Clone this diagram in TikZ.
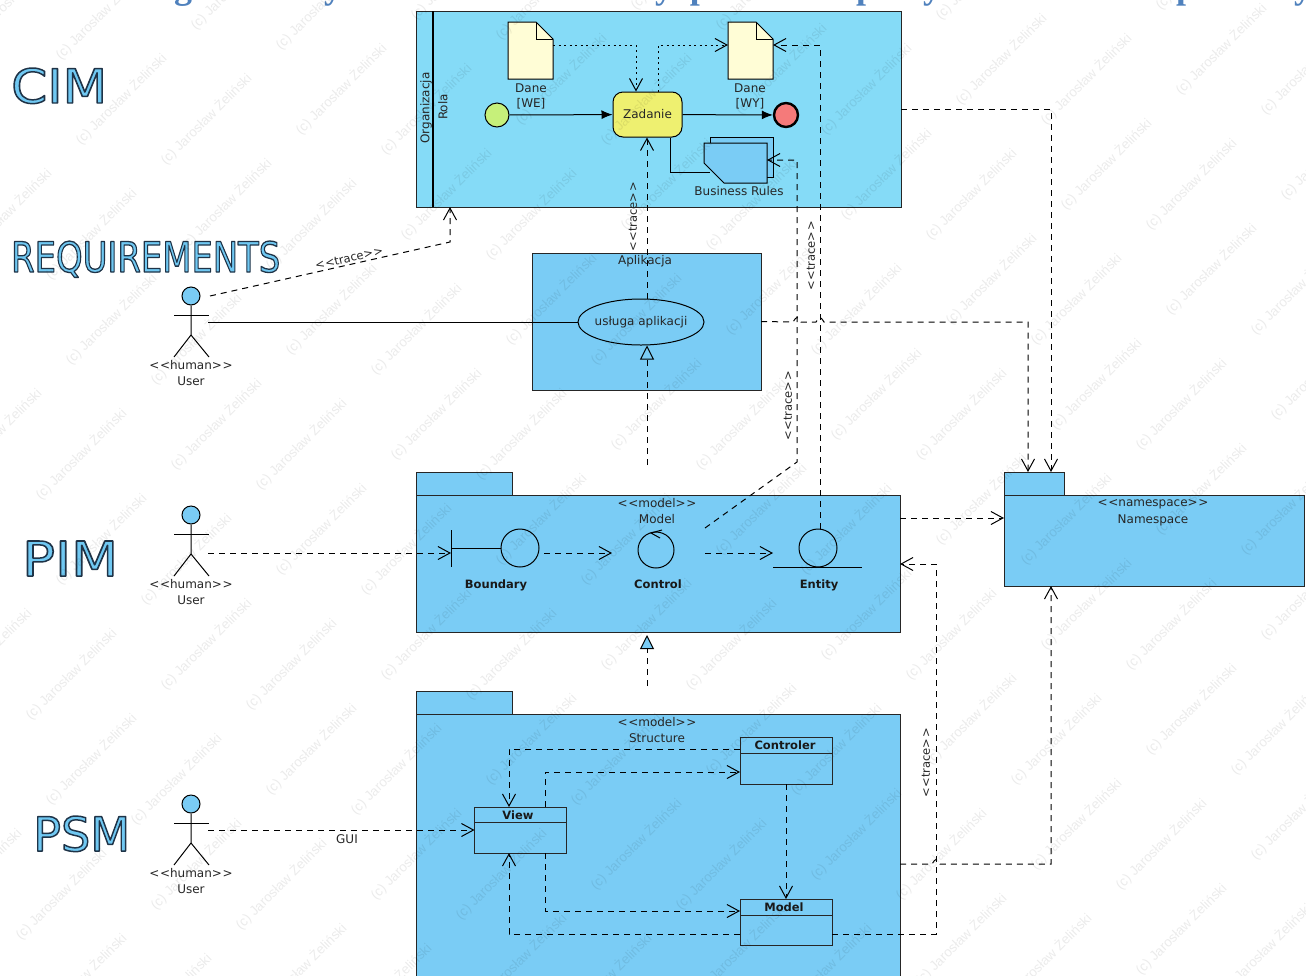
\documentclass[tikz,border=0pt]{standalone}
\usepackage{graphicx}
\usepackage{fontspec}
\setmainfont{DejaVu Sans}
\newfontfamily\titlefont{Liberation Serif}
\newfontfamily\markfont{Liberation Sans}
\usetikzlibrary{arrows.meta, shapes.geometric}
\definecolor{cimblue}{RGB}{133,219,247}
\definecolor{pkgblue}{RGB}{122,204,245}
\definecolor{headblue}{RGB}{112,200,242}
\definecolor{taskyellow}{RGB}{238,240,112}
\definecolor{docyellow}{RGB}{255,253,214}
\definecolor{startgreen}{RGB}{198,240,122}
\definecolor{endred}{RGB}{245,122,122}
\definecolor{titleblue}{RGB}{79,129,189}
\newcommand{\outlined}[1]{\fontsize{48}{50}\selectfont\color{headblue}\special{pdf:code 2 Tr 1.5 w 1 j 0.12 0.2 0.28 RG}#1\special{pdf:code 0 Tr}}
\newcommand{\stereo}[1]{<\kern.6pt<#1>\kern.6pt>}
\begin{document}
\begin{tikzpicture}[
    x=1pt, y=-1pt,
    boxline/.style={draw=black!85, line width=1pt},
    pkgbody/.style={boxline, fill=pkgblue, inner sep=0pt, outer sep=0pt},
    classbox/.style={pkgbody, minimum width=92pt, minimum height=46pt},
    solidline/.style={draw=black, line width=1pt},
    flowline/.style={solidline, -{Latex[length=11pt,width=9pt]}},
    tracearr/.style={draw=black, line width=1pt, dash pattern=on 6pt off 5pt,
                     -{Straight Barb[length=12pt,width=13pt]}},
    dotarr/.style={draw=black, line width=1pt, dash pattern=on 2pt off 3.5pt,
                   -{Straight Barb[length=12pt,width=13pt]}},
    realarr/.style={draw=black, line width=1pt, dash pattern=on 6pt off 5pt,
                    -{Triangle[open,length=14pt,width=14pt,fill=pkgblue]}},
    lbl/.style={font=\fontsize{12}{13}\selectfont, text=black!85, inner sep=0pt},
    tracelbl/.style={lbl, font=\fontsize{11.5}{13}\selectfont},
    blbl/.style={font=\fontsize{11.5}{13}\selectfont\bfseries, text=black!90, inner sep=0pt},
    heading/.style={anchor=base west, inner sep=0pt},
    wmark/.style={anchor=south west, rotate=45, inner sep=0pt, text=black, opacity=0.08,
                  font=\markfont\fontsize{13.5}{14}\selectfont},
  ]
  \useasboundingbox (0,0) rectangle (1306,975);
  \clip (0,0) rectangle (1306,975);
  \fill[white] (0,0) rectangle (1306,975);
  % cut-off title line
  \foreach \tx/\tc in {183/g,333/y,664/y,700/p,866/p,932/y,1186/p,1303/y}
    { \node[anchor=base, inner sep=0pt, text=titleblue, font=\titlefont\fontsize{36}{40}\selectfont\bfseries]
        (title\tx) at (\tx,-2) {\tc}; }
  % headings
  \node[heading] (cimhead) at (11,103) {\resizebox{96pt}{35pt}{\outlined{CIM}}};
  \node[heading] (reqhead) at (11,272) {\resizebox{269pt}{31pt}{\outlined{REQUIREMENTS}}};
  \node[heading] (pimhead) at (22,576) {\resizebox{96pt}{35pt}{\outlined{PIM}}};
  \node[heading] (psmhead) at (33,851) {\resizebox{97pt}{35pt}{\outlined{PSM}}};
  % business process
  \node[pkgbody, fill=cimblue, minimum width=485pt, minimum height=196pt] (pool) at (658.5,109) {};
  \draw[draw=black, line width=2pt] (433,11) -- (433,207);
  \node[lbl, rotate=90] (poolname) at (426,108) {Organizacja};
  \node[lbl, rotate=90] (lanename) at (443,107) {Rola};
  \foreach \dn/\dx/\dl/\dt in {danewe/508/531/[WE],danewy/728/750/[WY]}
  {
    \draw[solidline, fill=docyellow] (\dx,22) -- (\dx+28,22) -- (\dx+45,39) -- (\dx+45,79) -- (\dx,79) -- cycle;
    \draw[solidline] (\dx+28,22) -- (\dx+28,39) -- (\dx+45,39);
    \coordinate (\dn) at (\dx,45);
    \coordinate (\dn-r) at (\dx+45,45);
    \node[lbl] (\dn-a) at (\dl,88) {Dane};
    \node[lbl] (\dn-b) at (\dl,104) {\dt};
  }
  \node[solidline, circle, fill=startgreen, minimum size=24pt, inner sep=0pt] (start) at (497,115) {};
  \node[solidline, draw=black, line width=2.4pt, circle, fill=endred, minimum size=24pt, inner sep=0pt] (stop) at (786,115) {};
  \node[solidline, rounded corners=10pt, fill=taskyellow, minimum width=69pt, minimum height=45pt, inner sep=0pt,
        lbl] (zadanie) at (647.5,114.5) {Zadanie};
  \draw[flowline] (start) -- (zadanie);
  \draw[flowline] (zadanie) -- (stop);
  \draw[dotarr] (danewe-r) -| (zadanie.north -| 636,0);
  \draw[dotarr] (zadanie.north -| 658,0) |- (danewy);
  \draw[solidline, fill=pkgblue] (710,143) -- (710,137) -- (773,137) -- (773,177) -- (767,177);
  \node[pkgbody, draw=none, fill=none, minimum width=63pt, minimum height=40pt] (rules) at (735.5,163) {};
  \draw[solidline, fill=pkgblue] (704,143) -- (767,143) -- (767,183) -- (724,183) -- (704,163) -- cycle;
  \draw[solidline] (zadanie.south -| 670,0) |- (710,172);
  \node[lbl] (ruleslabel) at (739,191) {Business Rules};
  % application layer
  \node[pkgbody, minimum width=229pt, minimum height=137pt] (aplikacja) at (646.5,321.5) {};
  \node[lbl] (aplikacjaname) at (645,261) {Aplikacja};
  \node[solidline, ellipse, fill=pkgblue, minimum width=126pt, minimum height=46pt, lbl, inner sep=-2pt] (usluga) at (641,322) {usługa aplikacji};
  % actors
  \foreach \an/\ay in {actorreq/296,actorpim/515,actorpsm/804}
  {
    \node[solidline, circle, fill=pkgblue, minimum size=18pt, inner sep=0pt] (\an) at (191,\ay) {};
    \draw[solidline] (\an.south) -- (191,\ay+39) -- (174,\ay+61);
    \draw[solidline] (191,\ay+39) -- (209,\ay+61);
    \draw[solidline] (174,\ay+19) -- (209,\ay+19);
    \node[lbl] (\an-st) at (191,\ay+69) {\stereo{human}};
    \node[lbl] (\an-nm) at (191,\ay+85) {User};
  }
  \coordinate (reqout) at (210,296);
  \coordinate (reqline) at (208,322);
  \coordinate (pimout) at (208,553);
  \coordinate (psmout) at (208,830);
  \draw[tracearr] (reqout) -- (450,242) -- (pool.south -| 450,0);
  \node[tracelbl, rotate=13] (tracereq) at (349,258) {\stereo{trace}};
  \draw[solidline] (reqline) -- (usluga.west |- reqline);
  % namespace package
  \node[pkgbody, minimum width=60pt, minimum height=23pt] (nstab) at (1034,483.5) {};
  \node[pkgbody, minimum width=300pt, minimum height=91pt] (namespace) at (1154,540.5) {};
  \node[lbl] (nsst) at (1153,504) {\stereo{namespace}};
  \node[lbl] (nsnm) at (1153,520) {Namespace};
  % pim package
  \node[pkgbody, minimum width=96pt, minimum height=23pt] (modeltab) at (464,483.5) {};
  \node[pkgbody, minimum width=484pt, minimum height=137pt] (modelpkg) at (658,563.5) {};
  \node[lbl] (modelst) at (657,503) {\stereo{model}};
  \node[lbl] (modelnm) at (657,519) {Model};
  \node[solidline, circle, minimum size=38pt, inner sep=0pt] (boundary) at (520,548) {};
  \draw[solidline] (boundary.west) -- (451,548);
  \draw[solidline] (451,530) -- (451,567);
  \node[blbl] (boundarylabel) at (496,585) {Boundary};
  \node[solidline, circle, minimum size=36pt, inner sep=0pt] (control) at (656,550) {};
  \draw[solidline] (662,530) -- (651,533) -- (660,538);
  \node[blbl] (controllabel) at (658,584) {Control};
  \node[solidline, circle, minimum size=38pt, inner sep=0pt] (entity) at (818,548) {};
  \draw[solidline] (773,567) -- (862,567);
  \node[blbl] (entitylabel) at (819,585) {Entity};
  \coordinate (boundaryout) at (544,553);
  \coordinate (controlin) at (612,553);
  \coordinate (controlout) at (705,553);
  \coordinate (controltrace) at (705,528);
  \coordinate (entityin) at (773,553);
  \coordinate (modelreal) at (647,465);
  \draw[tracearr] (pimout) -- (451,553);
  \draw[tracearr] (boundaryout) -- (controlin);
  \draw[tracearr] (controlout) -- (entityin);
  % psm package
  \node[pkgbody, minimum width=96pt, minimum height=23pt] (structtab) at (464,702.5) {};
  \node[pkgbody, minimum width=484pt, minimum height=300pt] (structpkg) at (658,864) {};
  \node[lbl] (structst) at (657,722) {\stereo{model}};
  \node[lbl] (structnm) at (657,738) {Structure};
  \node[classbox, minimum height=47pt] (controler) at (786,760.5) {};
  \node[classbox] (view) at (520.5,830) {};
  \node[classbox] (modelcl) at (786,922) {};
  \draw[boxline] (controler.west |- 0,753) -- (controler.east |- 0,753);
  \draw[boxline] (view.west |- 0,822) -- (view.east |- 0,822);
  \draw[boxline] (modelcl.west |- 0,915) -- (modelcl.east |- 0,915);
  \node[blbl] (controlername) at (785,745) {Controler};
  \node[blbl] (viewname) at (518,815) {View};
  \node[blbl] (modelclname) at (784,907) {Model};
  \coordinate (structreal) at (647,686);
  \draw[tracearr] (psmout) -- (view.west |- psmout);
  \node[lbl] (guilabel) at (347,839) {GUI};
  \draw[tracearr] (controler.west |- 0,749) -| (view.north -| 509,0);
  \draw[tracearr] (view.north -| 545,0) |- (controler.west |- 0,772);
  \draw[tracearr] (controler.south) -- (modelcl.north);
  \draw[tracearr] (view.south -| 545,0) |- (modelcl.west |- 0,911);
  \draw[tracearr] (modelcl.west |- 0,934) -| (view.south -| 509,0);
  % dependencies between the layers
  \draw[realarr] (modelreal) -- (usluga.south -| 647,0);
  \draw[realarr] (structreal) -- (647,635);
  \draw[tracearr] (usluga.north -| 647,0) -- (zadanie.south -| 647,0);
  \node[tracelbl, rotate=90] (tracetask) at (633,217) {\stereo{trace}};
  \draw[tracearr] (entity.north -| 820,0) |- (danewy-r);
  \node[tracelbl, rotate=90] (traceentity) at (811,256) {\stereo{trace}};
  \draw[tracearr] (controltrace) -- (797,462) -- (797,160) -- (rules.east |- 0,160);
  \node[tracelbl, rotate=90] (tracecontrol) at (788,406) {\stereo{trace}};
  \draw[tracearr] (aplikacja.east) -- (793,322) .. controls (797,316) .. (801,322) -- (816,322)
    .. controls (820,316) .. (824,322) -- (1028,322) -- (nstab.north -| 1028,0);
  \draw[tracearr] (pool.east |- 0,109) -- (1051,109) -- (nstab.north -| 1051,0);
  \draw[tracearr] (modelpkg.east |- 0,518) -- (namespace.west |- 0,518);
  \draw[tracearr] (structpkg.east |- 0,864) -- (932,864) .. controls (936,858) .. (940,864)
    -- (1051,864) -- (namespace.south -| 1051,0);
  \draw[tracearr] (modelcl.east |- 0,934) -- (936,934) -- (936,564) -- (modelpkg.east |- 0,564);
  \node[tracelbl, rotate=90] (tracemodel) at (926,763) {\stereo{trace}};
  % watermark
  \foreach \i in {-1,...,6} \foreach \j in {-1,...,5}
    \foreach \dx/\dy in {0/0,85/20,105/105,190/125}
      { \node[wmark] (wm\i\j\dx) at ({198+\i*220-\j*10+\dx},{33-\i*10+\j*220+\dy}) {(c) Jarosław Żeliński}; }
\end{tikzpicture}
\end{document}
